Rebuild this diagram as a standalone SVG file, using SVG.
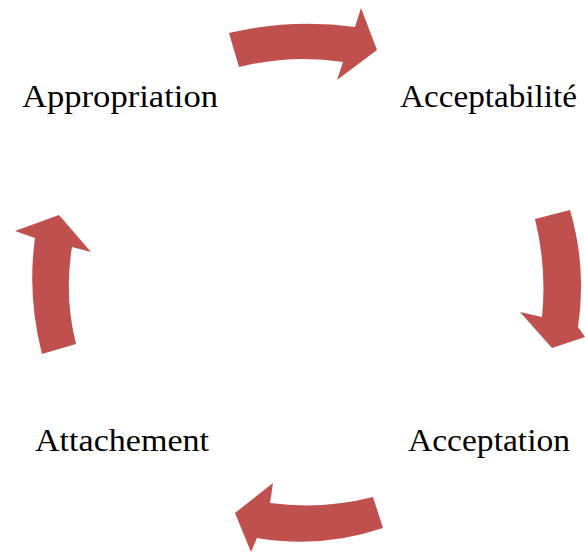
<svg xmlns="http://www.w3.org/2000/svg" width="585" height="553" viewBox="0 0 585 553">
<style>
.arrow{fill:#C0504D;}
.label{font-family:"Liberation Serif","DejaVu Serif",serif;font-size:32px;fill:#000;}
</style>
<rect width="585" height="553" fill="#fff"/>
<g id="connectors">
<path class="arrow" d="M229,33 Q292,18 355,27 L361,8 L377,50 L337,80 L343,62 Q292,54 239,67 Z"/>
<path class="arrow" d="M570,210 Q587,268 578,327 L585,337 L552,348 L520,312 L542,317 Q547,268 535,219 Z"/>
<path class="arrow" d="M383,528 Q321,549 257,538 L251,552 L235,513 L273,483 L270,503 Q322,510 373,497 Z"/>
<path class="arrow" d="M42,354 Q27,296 35,238 L15,231 L59,215 L91,252 L72,247 Q64,296 76,344 Z"/>
</g>
<g id="appropriation"><text class="label" x="22" y="107" textLength="196" lengthAdjust="spacingAndGlyphs">Appropriation</text></g>
<g id="acceptabilite"><text class="label" x="400" y="107" textLength="177" lengthAdjust="spacingAndGlyphs">Acceptabilité</text></g>
<g id="attachement"><text class="label" x="35" y="451" textLength="174" lengthAdjust="spacingAndGlyphs">Attachement</text></g>
<g id="acceptation"><text class="label" x="408" y="451" textLength="162" lengthAdjust="spacingAndGlyphs">Acceptation</text></g>
</svg>
